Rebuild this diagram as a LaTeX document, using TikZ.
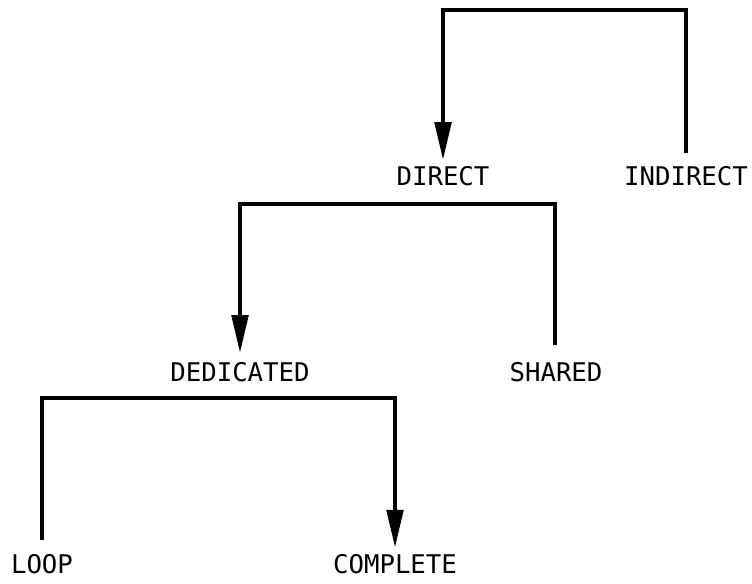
\documentclass[tikz,border=0pt]{standalone}
\usepackage{fontspec}
\setmonofont{DejaVu Sans Mono}
\usetikzlibrary{arrows.meta}
\begin{document}
\begin{tikzpicture}[x=0.75pt, y=-0.75pt,
    label/.style={inner sep=0pt, outer sep=0pt, anchor=base,
      font=\ttfamily\fontsize{19.3pt}{20pt}\selectfont},
    branch/.style={line width=2.4pt, line join=miter},
    pick/.style={branch, -{Triangle[length=28pt, width=12.5pt]}}]
  \useasboundingbox (0,0) rectangle (752,584);

  % heights of the horizontal bars
  \coordinate (bar1) at (0,10);
  \coordinate (bar2) at (0,204);
  \coordinate (bar3) at (0,398);

  % labels (placed by baseline)
  \node[label] (direct)    at (443,186) {DIRECT};
  \node[label] (indirect)  at (686,186) {INDIRECT};
  \node[label] (dedicated) at (240,381) {DEDICATED};
  \node[label] (shared)    at (556,381) {SHARED};
  \node[label] (loop)      at (42,573)  {LOOP};
  \node[label] (complete)  at (395,573) {COMPLETE};

  % DIRECT vs INDIRECT
  \draw[pick, shorten <=10.5pt, shorten >=5.5pt]
    (indirect.north) -- (indirect.north |- bar1)
    -- (direct.north |- bar1) -- (direct.north);

  % DEDICATED vs SHARED
  \draw[pick, shorten <=12.5pt, shorten >=7pt]
    ([xshift=-0.75pt]shared.north) -- ([xshift=-0.75pt]shared.north |- bar2)
    -- (dedicated.north |- bar2) -- (dedicated.north);

  % LOOP vs COMPLETE
  \draw[pick, shorten <=10.5pt, shorten >=5pt]
    (loop.north) -- (loop.north |- bar3)
    -- (complete.north |- bar3) -- (complete.north);
\end{tikzpicture}
\end{document}
